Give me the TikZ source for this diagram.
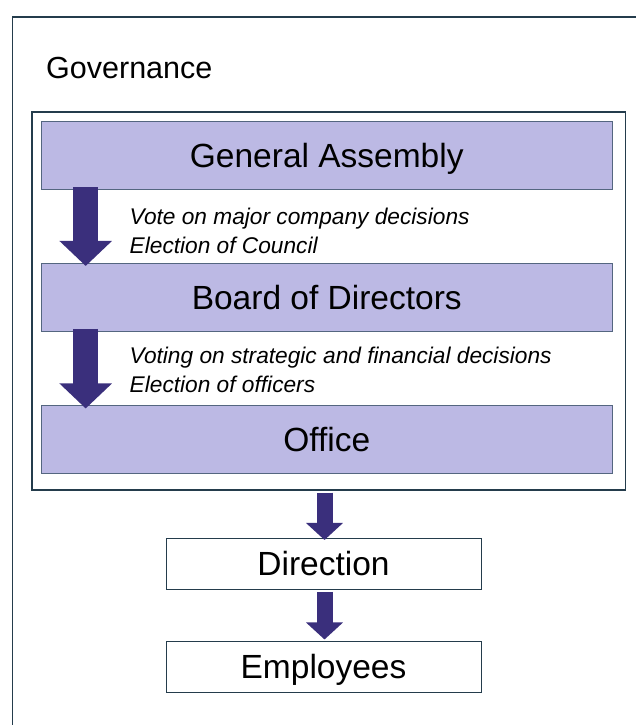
\documentclass[tikz,border=0pt]{standalone}
\usepackage{fontspec}
\setmainfont{Liberation Sans}
\usetikzlibrary{positioning,calc,arrows.meta}
\definecolor{framecol}{RGB}{36,60,76}
\definecolor{organfill}{RGB}{188,185,228}
\definecolor{organline}{RGB}{84,102,128}
\definecolor{arrowcol}{RGB}{58,47,124}
\tikzset{
    x=1pt,
    y=1pt,
    frame/.style = {
        draw=framecol,
        shape=rectangle,
        line width=1.8pt,
        inner sep=0pt,
        outer sep=0pt
    },
    organ/.style = {
        draw=organline,
        fill=organfill,
        shape=rectangle,
        minimum width=571.5pt,
        minimum height=68pt,
        line width=0.8pt,
        inner sep=0pt,
        outer sep=0pt,
        text height=24pt,
        text depth=0pt,
        font=\fontsize{33.5}{40}\selectfont
    },
    unit/.style = {
        draw=framecol,
        fill=white,
        shape=rectangle,
        minimum width=315pt,
        minimum height=51pt,
        line width=0.9pt,
        inner sep=0pt,
        outer sep=0pt,
        text height=24pt,
        text depth=0pt,
        font=\fontsize{33.5}{40}\selectfont
    },
    note/.style = {
        anchor=west,
        align=left,
        inner sep=0pt,
        font=\fontsize{22.7}{29}\selectfont\itshape
    },
    bigarrow/.style = {
        draw=arrowcol,
        line width=25pt,
        -{Triangle[width=51pt,length=25pt]}
    },
    smallarrow/.style = {
        draw=arrowcol,
        line width=16pt,
        -{Triangle[width=36pt,length=17pt]}
    },
}

\begin{document}
\begin{tikzpicture}
            \useasboundingbox (0,0) rectangle (636,725);
            \clip (0,0) rectangle (636,725);

            \draw[frame] (12.5,708) rectangle (680,-40);
            \node[anchor=base west, inner sep=0pt, font=\fontsize{30.5}{36}\selectfont] (govlabel) at (46,646.5) {Governance};

            \node[frame, minimum width=593.8pt, minimum height=378.3pt] (gov) at (328.6,424.15) {};
            \node[organ] (ga) at (326.75,569.5) {General Assembly};
            \node[organ] (board) at (326.75,427.5) {Board of Directors};
            \node[organ] (office) at (326.75,285.5) {Office};

            \node[note] (vote) at (129.5,493.75) {Vote on major company decisions\\Election of Council};
            \node[note] (voting) at (129.5,354.75) {Voting on strategic and financial decisions\\Election of officers};

            \node[unit] (direction) at (323.5,161.5) {Direction};
            \node[unit] (employees) at (323.5,58) {Employees};

            \draw[bigarrow] ($(ga.south west)+(44.7,2.2)$) -- ($(board.north west)+(44.7,-2.5)$);
            \draw[bigarrow] ($(board.south west)+(44.7,2.5)$) -- ($(office.north west)+(44.7,-3)$);
            \draw[smallarrow] ($(gov.south -| direction.north)+(1,-2.7)$) -- ($(direction.north)+(1,-2)$);
            \draw[smallarrow] ($(direction.south)+(1,-3)$) -- ($(employees.north)+(1,2)$);

        \end{tikzpicture}
\end{document}
